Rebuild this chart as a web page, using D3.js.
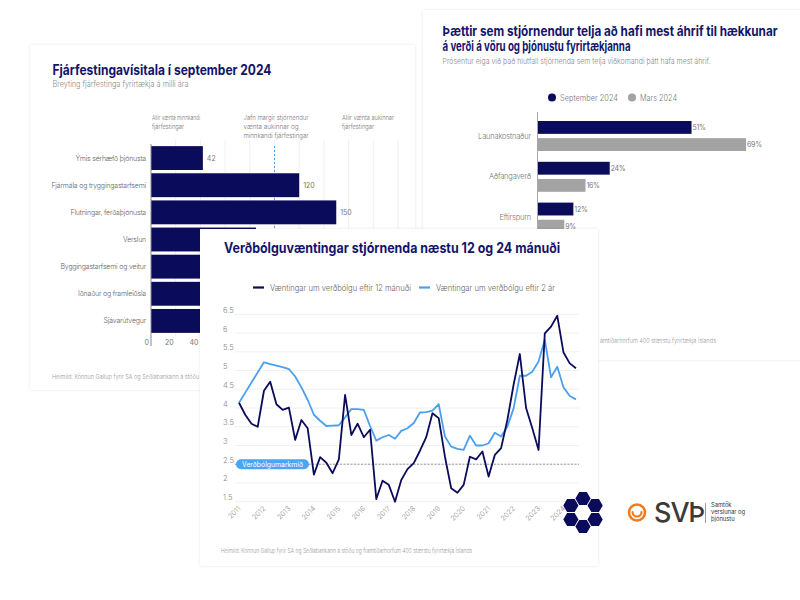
<!DOCTYPE html>
<html><head><meta charset="utf-8">
<script src="https://cdn.jsdelivr.net/npm/d3@7"></script>
<style>
html,body{margin:0;padding:0;background:#fff;}
svg{display:block;font-family:Inter,"Noto Sans",sans-serif;}
</style></head>
<body><svg id="c" width="800" height="600"></svg>
<script>
// ---------- DATA ----------
// Card 1: Fjárfestingavísitala
const invCategories = ["Ýmis sérhæfð þjónusta","Fjármála og tryggingastarfsemi","Flutningar, ferðaþjónusta","Verslun","Byggingastarfsemi og veitur","Iðnaður og framleiðsla","Sjávarútvegur"];
const invValues = [42,120,150,85,110,95,70];
const invTicks = [0,20,40,60,80,100,120,140,160,180,200];
const invTickLabels = [0,20,40]; // the others are hidden behind the front card

// Card 2: Þættir
const factCategories = ["Launakostnaður","Aðfangaverð","Eftirspurn"];
const factSeries = ["September 2024","Mars 2024"];
const factSep = [51,24,12];
const factMar = [69,16,9];

// Card 3: Verðbólguvæntingar
const inflYears = [2011,2012,2013,2014,2015,2016,2017,2018,2019,2020,2021,2022,2023,2024];
const infl12m = [4.14,3.82,3.58,3.50,4.46,4.70,4.10,3.95,4.01,3.15,3.68,3.46,2.22,2.69,2.54,2.26,2.63,4.35,3.28,3.58,3.22,3.42,1.57,2.06,1.95,1.50,2.08,2.37,2.53,2.86,3.22,3.86,3.73,2.70,1.86,1.74,1.95,2.70,2.63,2.84,2.17,2.75,2.93,3.68,4.62,5.44,4.00,3.46,2.88,5.99,6.17,6.46,5.48,5.19,5.06];
const infl2y = [4.14,4.41,4.68,4.95,5.22,5.17,5.13,5.09,5.04,4.84,4.55,4.22,3.82,3.66,3.52,3.53,3.54,3.75,3.97,3.97,3.95,3.52,3.13,3.22,3.28,3.18,3.39,3.46,3.60,3.88,3.89,3.93,4.10,3.24,2.97,2.91,2.88,3.26,3.00,3.00,3.06,3.34,3.24,3.50,3.99,4.86,4.86,4.97,5.24,5.82,4.82,5.10,4.55,4.32,4.23];
const inflTicks = [1.5,2,2.5,3,3.5,4,4.5,5,5.5,6,6.5];
const inflTarget = 2.5;
const inflSeriesNames = ["Væntingar um verðbólgu eftir 12 mánuði","Væntingar um verðbólgu eftir 2 ár"];

const NAVY = "#0b0b5c", TITLE = "#14146a", LBLUE = "#4aa0ee", GREY = "#a3a3a3";
const svg = d3.select("#c");
const defs = svg.append("defs");
const f = defs.append("filter").attr("id","sh").attr("x","-5%").attr("y","-5%").attr("width","110%").attr("height","110%");
f.append("feDropShadow").attr("dx",0).attr("dy",0).attr("stdDeviation",1.6).attr("flood-color","#000").attr("flood-opacity",0.10);

function card(x,y,w,h){
  return svg.append("rect").attr("x",x).attr("y",y).attr("width",w).attr("height",h).attr("fill","#fff").attr("filter","url(#sh)");
}
function fit(sel,w){ return sel.attr("textLength",w).attr("lengthAdjust","spacingAndGlyphs"); }

// ---------- CARD 1 ----------
card(30,45,385,345);
const g1 = svg.append("g");
fit(g1.append("text").attr("x",52.5).attr("y",75).attr("font-size",14).attr("font-weight",700).attr("fill",TITLE)
  .text("Fjárfestingavísitala í september 2024"),219);
fit(g1.append("text").attr("x",52.5).attr("y",87).attr("font-size",8.3).attr("font-weight",300).attr("fill","#888")
  .text("Breyting fjárfestinga fyrirtækja á milli ára"),136);
const x1 = d3.scaleLinear().domain([0,200]).range([151,398]);
const y1 = d3.scaleBand().domain(invCategories).range([144.5,334.5]).paddingInner(0.12).paddingOuter(0.06);
const notes = [
  {x:152, lines:[["Allir vænta minnkandi",48],["fjárfestingar",32]]},
  {x:243.5, lines:[["Jafn margir stjórnendur",65],["vænta aukinnar og",55],["minnkandi fjárfestingar",65]]},
  {x:342, lines:[["Allir vænta aukinnar",52],["fjárfestingar",32]]}];
notes.forEach(n=>{
  n.lines.forEach((l,i)=>fit(g1.append("text").attr("x",n.x).attr("y",120+i*9).attr("font-size",6.8).attr("fill","#777").attr("font-weight",300).text(l[0]),l[1]));
});
g1.selectAll(".gl").data(invTicks.slice(1)).join("line")
  .attr("x1",d=>x1(d)).attr("x2",d=>x1(d)).attr("y1",140).attr("y2",336).attr("stroke","#efefef");
g1.append("line").attr("x1",x1(100)).attr("x2",x1(100)).attr("y1",146).attr("y2",336)
  .attr("stroke",LBLUE).attr("stroke-dasharray","2,2").attr("stroke-width",1);
g1.selectAll(".b").data(invValues).join("rect")
  .attr("x",x1(0)).attr("y",(d,i)=>y1(invCategories[i])).attr("width",d=>x1(d)-x1(0)).attr("height",y1.bandwidth()).attr("fill",NAVY);
g1.selectAll(".bl").data(invValues.slice(0,3)).join("text")
  .attr("x",d=>x1(d)+4).attr("y",(d,i)=>y1(invCategories[i])+y1.bandwidth()/2+2.5).attr("font-size",7).attr("fill","#777").text(d=>d);
g1.selectAll(".cl").data(invCategories).join("text")
  .attr("x",146).attr("y",d=>y1(d)+y1.bandwidth()/2+2.5).attr("text-anchor","end").attr("font-size",7).attr("font-weight",300).attr("fill","#666").attr("letter-spacing",-0.2).text(d=>d);
g1.append("line").attr("x1",x1(0)).attr("x2",x1(0)).attr("y1",144).attr("y2",346).attr("stroke","#888");
g1.selectAll(".tk").data(invTickLabels).join("text")
  .attr("x",d=>x1(d)-2).attr("y",345).attr("text-anchor","end").attr("font-size",7).attr("fill","#777").text(d=>d);
fit(g1.append("text").attr("x",52).attr("y",379).attr("font-size",6.5).attr("fill","#999").attr("font-weight",300)
  .text("Heimild: Könnun Gallup fyrir SA og Seðlabankann á stöðu"),147);

// ---------- CARD 2 ----------
card(423,10,400,350);
const g2 = svg.append("g");
fit(g2.append("text").attr("x",442.5).attr("y",36).attr("font-size",13.3).attr("font-weight",700).attr("fill",TITLE)
  .text("Þættir sem stjórnendur telja að hafi mest áhrif til hækkunar"),335);
fit(g2.append("text").attr("x",442.5).attr("y",51).attr("font-size",13.3).attr("font-weight",700).attr("fill",TITLE)
  .text("á verði á vöru og þjónustu fyrirtækjanna"),188);
fit(g2.append("text").attr("x",442.5).attr("y",63.5).attr("font-size",8).attr("font-weight",300).attr("fill","#888")
  .text("Prósentur eiga við það hlutfall stjórnenda sem telja viðkomandi þátt hafa mest áhrif."),268);
const lg2 = [{n:factSeries[0],c:NAVY,x:552,w:58},{n:factSeries[1],c:GREY,x:632,w:37}];
lg2.forEach(l=>{
  g2.append("circle").attr("cx",l.x).attr("cy",97.5).attr("r",4).attr("fill",l.c);
  fit(g2.append("text").attr("x",l.x+8).attr("y",100.5).attr("font-size",8.5).attr("font-weight",300).attr("fill","#777").text(l.n),l.w);
});
const x2 = d3.scaleLinear().domain([0,100]).range([537,840]);
const y2 = d3.scaleBand().domain(factCategories).range([117,239.4]);
const y2s = d3.scaleBand().domain(factSeries).range([4,34]).paddingInner(0.25);
const vals2 = [factSep,factMar];
factSeries.forEach((s,si)=>{
  const c = si===0?NAVY:GREY;
  g2.selectAll(".b"+si).data(vals2[si]).join("rect")
    .attr("x",x2(0)).attr("y",(d,i)=>y2(factCategories[i])+y2s(s)).attr("width",d=>x2(d)-x2(0)).attr("height",y2s.bandwidth()).attr("fill",c);
  g2.selectAll(".l"+si).data(vals2[si]).join("text")
    .attr("x",d=>x2(d)+1).attr("y",(d,i)=>y2(factCategories[i])+y2s(s)+y2s.bandwidth()/2+2.5).attr("font-size",7).attr("fill","#777").attr("letter-spacing",-0.3).text(d=>d+"%");
});
g2.selectAll(".cl").data(factCategories).join("text")
  .attr("x",531).attr("y",d=>y2(d)+21.5).attr("text-anchor","end").attr("font-size",7.5).attr("font-weight",300).attr("fill","#777").attr("letter-spacing",-0.2).text(d=>d);
g2.append("line").attr("x1",x2(0)+0.5).attr("x2",x2(0)+0.5).attr("y1",112).attr("y2",240).attr("stroke","#aaa");
fit(g2.append("text").attr("x",600).attr("y",343).attr("font-size",6.5).attr("fill","#999").attr("font-weight",300)
  .text("amtíðarhorfum 400 stærstu fyrirtækja Íslands"),116);

// ---------- CARD 3 ----------
card(200,229,398,337);
const g3 = svg.append("g");
fit(g3.append("text").attr("x",224).attr("y",253).attr("font-size",14.3).attr("font-weight",700).attr("fill",TITLE)
  .text("Verðbólguvæntingar stjórnenda næstu 12 og 24 mánuði"),336);
const lg3 = [{n:inflSeriesNames[0],c:NAVY,x:253,w:141},{n:inflSeriesNames[1],c:LBLUE,x:419,w:119}];
lg3.forEach(l=>{
  g3.append("line").attr("x1",l.x).attr("x2",l.x+11).attr("y1",287.5).attr("y2",287.5).attr("stroke",l.c).attr("stroke-width",2.2);
  fit(g3.append("text").attr("x",l.x+17).attr("y",290.5).attr("font-size",8.8).attr("font-weight",300).attr("fill","#666").text(l.n),l.w);
});
const periods = infl12m.map((d,i)=>inflYears[0]+i*0.25);
const x3 = d3.scaleLinear().domain([2011,2024.5]).range([239,576]);
const y3 = d3.scaleLinear().domain([1.5,6.5]).range([501.7,314.3]);
g3.selectAll(".gl").data(inflTicks).join("line")
  .attr("x1",235).attr("x2",579).attr("y1",d=>y3(d)).attr("y2",d=>y3(d)).attr("stroke","#f0f0f0");
g3.selectAll(".yl").data(inflTicks).join("text")
  .attr("x",223).attr("y",d=>y3(d)-1.5).attr("font-size",7.5).attr("fill","#888").attr("font-weight",300).text(d=>d);
g3.selectAll(".xl").data(inflYears).join("text")
  .attr("transform",d=>`translate(${x3(d)+2},509) rotate(-45)`).attr("text-anchor","end").attr("font-size",7).attr("fill","#888").attr("font-weight",300).text(d=>d);
g3.append("line").attr("x1",235).attr("x2",579).attr("y1",y3(inflTarget)).attr("y2",y3(inflTarget))
  .attr("stroke","#999").attr("stroke-dasharray","2,1.5").attr("stroke-width",1);
const line = d3.line().x((d,i)=>x3(periods[i])).y(d=>y3(d));
g3.append("path").datum(infl2y).attr("d",line).attr("fill","none").attr("stroke",LBLUE).attr("stroke-width",1.8).attr("stroke-linejoin","round");
g3.append("path").datum(infl12m).attr("d",line).attr("fill","none").attr("stroke",NAVY).attr("stroke-width",1.8).attr("stroke-linejoin","round");
g3.append("rect").attr("x",236).attr("y",y3(inflTarget)-5).attr("width",73).attr("height",10).attr("rx",5).attr("fill","#4aa6f5");
fit(g3.append("text").attr("x",242).attr("y",y3(inflTarget)+2.4).attr("font-size",7).attr("fill","#fff").text("Verðbólgumarkmið"),61);
fit(g3.append("text").attr("x",221).attr("y",553).attr("font-size",6.5).attr("fill","#999").attr("font-weight",300)
  .text("Heimild: Könnun Gallup fyrir SA og Seðlabankann á stöðu og framtíðarhorfum 400 stærstu fyrirtækja Íslands"),251);

// ---------- LOGOS ----------
const lg = svg.append("g");
const hexR = 7.6, hc = [583,512.5], hd = 14;
const hexPts = d3.range(6).map(k=>[hexR*Math.cos(k*Math.PI/3), hexR*Math.sin(k*Math.PI/3)]);
[30,90,150,210,270,330].forEach(a=>{
  const cx = hc[0]+hd*Math.cos(a*Math.PI/180), cy = hc[1]+hd*Math.sin(a*Math.PI/180);
  lg.append("polygon").attr("points",hexPts.map(p=>[cx+p[0],cy+p[1]].join(",")).join(" ")).attr("fill",NAVY);
});
lg.append("circle").attr("cx",637).attr("cy",512.5).attr("r",8).attr("fill","none").attr("stroke","#f07c1b").attr("stroke-width",2.6);
lg.append("path").attr("d","M632.5,512 A4.5,4.5 0 0 0 641.5,512").attr("fill","none").attr("stroke","#f07c1b").attr("stroke-width",2.2).attr("stroke-linecap","round");
lg.append("text").attr("x",654).attr("y",522).attr("font-size",27).attr("font-weight",500).attr("fill","#3b3b3b").attr("letter-spacing",-1).text("SVÞ");
lg.append("line").attr("x1",705.5).attr("x2",705.5).attr("y1",503).attr("y2",523).attr("stroke","#555").attr("stroke-width",0.6);
const st = lg.append("text").attr("x",711).attr("y",507).attr("font-size",5.8).attr("fill","#333");
["Samtök","verslunar og","þjónustu"].forEach((l,i)=>st.append("tspan").attr("x",711).attr("dy",i?7:0).text(l));
</script></body></html>
